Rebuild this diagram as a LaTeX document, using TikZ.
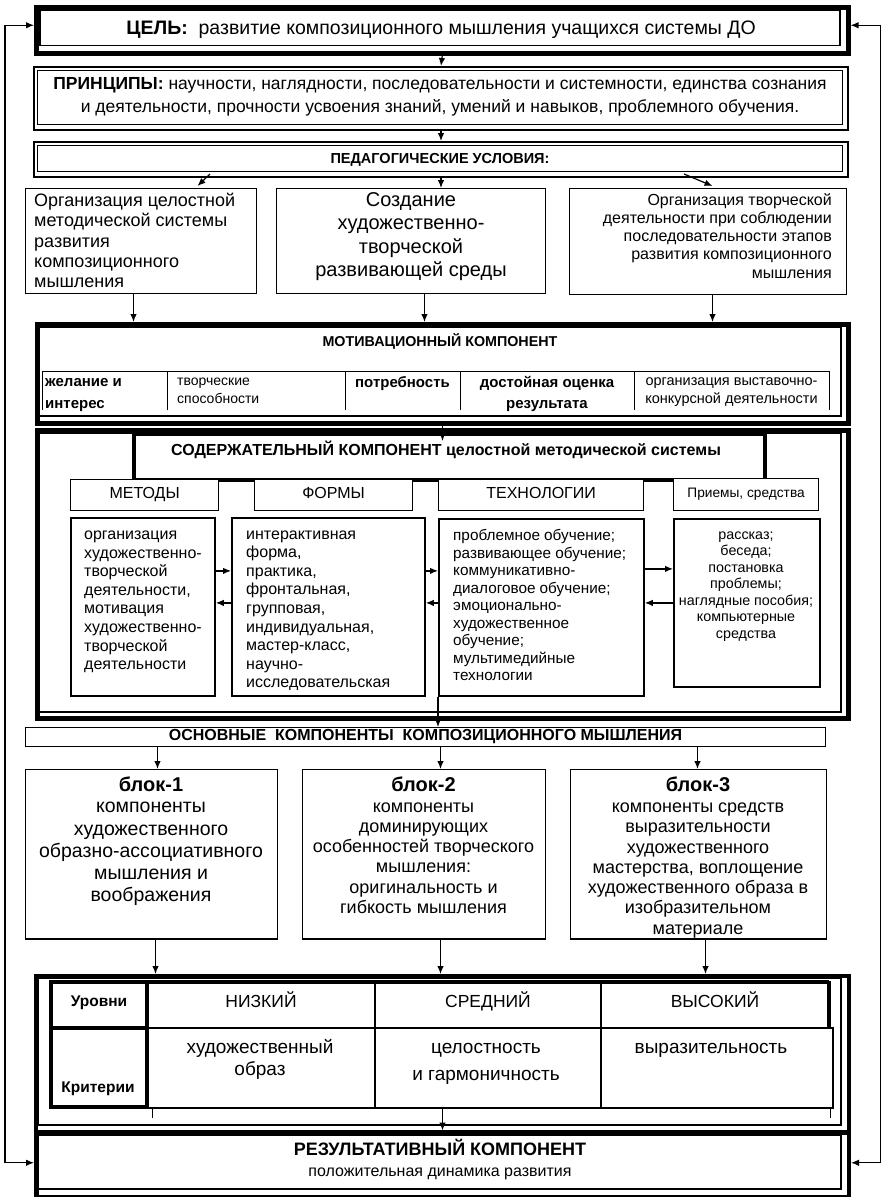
\documentclass[tikz,border=0pt]{standalone}
\usepackage{fontspec}
\setmainfont{Liberation Sans}
\usetikzlibrary{arrows.meta,calc}
\newcommand\fsz[2]{\fontsize{#1}{#2}\selectfont}
% name, x1, y1, x2, y2, style, text
\newcommand\mkbox[7]{\node[#6, inner sep=0pt, anchor=north west, minimum width={(#4)-(#2)}, minimum height={(#5)-(#3)}] (#1) at (#2,#3) {#7};}
\tikzset{
  arr/.style={-{Latex[length=8pt,width=6.5pt]}, line width=1.2pt},
  darr/.style={{Latex[length=8pt,width=6.5pt]}-{Latex[length=8pt,width=6.5pt]}, line width=1.2pt},
  heavy/.style={draw, line width=4.5pt},
  dbl/.style={draw, line width=2pt},
  plain/.style={draw, line width=1pt},
  cbox/.style={draw, line width=1.8pt},
  hbox/.style={draw, line width=1.2pt, fill=white},
  thinline/.style={line width=1pt},
  txt/.style={inner sep=0pt, execute at begin node=\strut, execute at end node=\strut},
}
\begin{document}
\begin{tikzpicture}[x=1pt,y=-1pt]
\useasboundingbox (0,0) rectangle (881,1197);
\fill[white] (0,0) rectangle (881,1197);

% ---------- ЦЕЛЬ
\mkbox{cel}{34}{5}{846}{51}{heavy}{}
\draw[line width=1.2pt] (40,10.5) rectangle (840,45.5);
\node[txt, font=\fsz{19.5}{23}] (celt) at (441,29.5) {\textbf{ЦЕЛЬ:}\ \ развитие композиционного мышления учащихся системы ДО};

% ---------- ПРИНЦИПЫ
\mkbox{pri}{33}{66}{847}{129}{dbl}{}
\draw[line width=1pt] (37.5,70.5) rectangle (842.5,124.5);
\node[txt, font=\fsz{17.5}{22.5}, align=center] (prit) at (440,98.5) {\textbf{ПРИНЦИПЫ:} научности, наглядности, последовательности и системности, единства сознания\\и деятельности, прочности усвоения знаний, умений и навыков, проблемного обучения.};

% ---------- ПЕДАГОГИЧЕСКИЕ УСЛОВИЯ
\mkbox{ped}{33}{141}{847}{176}{dbl}{}
\draw[line width=1pt] (37.5,145.5) rectangle (842.5,171.5);
\node[txt, font=\bfseries\fsz{14.5}{17}] (pedt) at (440,160) {ПЕДАГОГИЧЕСКИЕ УСЛОВИЯ:};

\draw[arr] (cel.south) -- (pri.north);
\draw[arr] (pri.south) -- (ped.north);

% ---------- conditions
\mkbox{c1}{25}{188}{256}{293}{plain}{}
\mkbox{c2}{276}{188}{545}{293}{plain}{}
\mkbox{c3}{569}{188}{846}{294}{plain}{}
\node[txt, font=\fsz{18}{20.3}, align=left, anchor=west] (c1t) at (34,243.5) {Организация целостной\\методической системы\\развития\\композиционного\\мышления};
\node[txt, font=\fsz{20}{23.3}, align=center] (c2t) at (411,238) {Создание\\художественно-\\творческой\\развивающей среды};
\node[txt, font=\fsz{16}{18.3}, align=right, anchor=east] (c3t) at (832,238.5) {Организация творческой\\деятельности при соблюдении\\последовательности этапов\\развития композиционного\\мышления};

\draw[arr] ([xshift=-231pt,yshift=4pt]ped.south) -- ([xshift=56.5pt,yshift=2pt]c1.north);
\draw[arr] (ped.south) -- (ped.south |- c2.north);
\draw[arr] ([xshift=243pt,yshift=4pt]ped.south) -- ([xshift=4.5pt,yshift=2pt]c3.north);

% ---------- МОТИВАЦИОННЫЙ
\mkbox{mot}{34.5}{322}{845.5}{421}{draw, line width=5pt}{}
\draw[line width=1.2pt] (39,327.5) rectangle (841,416);
\node[txt, font=\bfseries\fsz{14.3}{17}] (mott) at (440,343) {МОТИВАЦИОННЫЙ КОМПОНЕНТ};
\draw[thinline] (42,371) -- (829,371);
\foreach \xx in {42,167,345,460,634,829} { \draw[thinline] (\xx,371) -- (\xx,410); }
\node[txt, font=\bfseries\fsz{15}{21.5}, align=left, anchor=west] (m1) at (45,396.5) {желание и\\интерес};
\node[txt, font=\fsz{14}{18}, align=left, anchor=west] (m2) at (177,393.5) {творческие\\способности};
\node[txt, font=\bfseries\fsz{15}{21}] (m3) at (402.5,383.5) {потребность};
\node[txt, font=\bfseries\fsz{15}{21.5}, align=center] (m4) at (547,395.5) {достойная оценка\\результата};
\node[txt, font=\fsz{14.5}{18}, align=center] (m5) at (731.5,393.5) {организация выставочно-\\конкурсной деятельности};

\draw[arr] ([xshift=-7.5pt]c1.south) -- ([xshift=-7.5pt]c1.south |- mot.north);
\draw[arr] ([xshift=13.5pt]c2.south) -- ([xshift=13.5pt]c2.south |- mot.north);
\draw[arr] ([xshift=4.5pt]c3.south) -- ([xshift=4.5pt]c3.south |- mot.north);

% ---------- СОДЕРЖАТЕЛЬНЫЙ
\mkbox{sod}{34.5}{428}{845.5}{716}{draw, line width=5pt}{}
\draw[line width=1.2pt] (39,433.5) rectangle (841,712);
\mkbox{sodtb}{132}{432}{763}{478}{draw, line width=4pt, fill=white}{}
\node[txt, font=\bfseries\fsz{16}{19}] (sodt) at (446,451) {СОДЕРЖАТЕЛЬНЫЙ КОМПОНЕНТ целостной методической системы};
\draw[arr] (mot.south) -- ($(mot.south |- sodtb.north)+(0,9)$);

\mkbox{h1}{70}{479}{218}{510}{hbox}{\fsz{16}{19}\raisebox{-1pt}{\strut МЕТОДЫ}}
\mkbox{h2}{254}{479}{412}{510}{hbox}{\fsz{16}{19}\raisebox{-1pt}{\strut ФОРМЫ}}
\mkbox{h3}{438}{479}{643}{510}{hbox}{\fsz{16}{19}\raisebox{-1pt}{\strut ТЕХНОЛОГИИ}}
\mkbox{h4}{673}{478}{818}{510}{hbox}{\fsz{13.7}{16}\strut Приемы, средства}

\mkbox{b1}{70}{517}{214}{695}{cbox}{}
\mkbox{b2}{231}{517}{424}{695}{cbox}{}
\mkbox{b3}{438}{518}{643}{695}{cbox}{}
\mkbox{b4}{673}{518}{819}{686}{cbox}{}

\node[txt, font=\fsz{16}{18.6}, align=left, anchor=west] (b1t) at (84,603) {организация\\художественно-\\творческой\\деятельности,\\мотивация\\художественно-\\творческой\\деятельности};
\begin{scope}
\clip (231,517) rectangle (424,689);
\node[txt, font=\fsz{16}{18.55}, align=left, anchor=west] (b2t) at (246,612) {интерактивная\\форма,\\практика,\\фронтальная,\\групповая,\\индивидуальная,\\мастер-класс,\\научно-\\исследовательская};
\end{scope}
\node[txt, font=\fsz{15.3}{17.5}, align=left, anchor=west] (b3t) at (453,608) {проблемное обучение;\\развивающее обучение;\\коммуникативно-\\диалоговое обучение;\\эмоционально-\\художественное\\обучение;\\мультимедийные\\технологии};
\node[txt, font=\fsz{14.3}{16.5}, align=center] (b4t) at (746,587.5) {рассказ;\\беседа;\\постановка\\проблемы;\\наглядные пособия;\\компьютерные\\средства};

\draw[arr] ($(b1.east)+(0,-36)$) -- ($(b2.west)+(0,-36)$);
\draw[arr] ($(b2.west)+(0,-4)$) -- ($(b1.east)+(0,-4)$);
\draw[arr] ($(b2.east)+(0,-36)$) -- ($(b3.west)+(0,-36.5)$);
\draw[arr] ($(b3.west)+(0,-4.5)$) -- ($(b2.east)+(0,-4)$);
\draw[arr] ($(b3.east)+(0,-38.5)$) -- ($(b4.west)+(0,-34)$);
\draw[arr] (b4.west) -- ($(b3.east)+(0,-4.5)$);

% ---------- ОСНОВНЫЕ
\mkbox{osn}{25}{727}{825}{746}{plain}{\bfseries\fsz{16}{19}\raisebox{-2pt}{\strut ОСНОВНЫЕ\ \ КОМПОНЕНТЫ\ \ КОМПОЗИЦИОННОГО МЫШЛЕНИЯ}}
\draw[arr] (b3.south west) -- (b3.south west |- osn.north);

% ---------- blocks
\mkbox{bl1}{25}{769}{277}{938}{plain}{}
\mkbox{bl2}{302}{769}{545}{938}{plain}{}
\mkbox{bl3}{570}{769}{826}{938}{plain}{}
\draw[line width=2.5pt] (bl1.south west) -- (bl1.south east);
\draw[line width=2.5pt] (bl2.south west) -- (bl2.south east);
\draw[line width=2.5pt] (bl3.south west) -- (bl3.south east);
\node[txt, font=\bfseries\fsz{20}{23}] (bl1h) at (151,787) {блок-1};
\node[txt, font=\bfseries\fsz{20}{23}] (bl2h) at (423.5,787) {блок-2};
\node[txt, font=\bfseries\fsz{20}{23}] (bl3h) at (698,787) {блок-3};
\node[txt, font=\fsz{19.5}{22.25}, align=center] (bl1t) at (151,855.5) {компоненты\\художественного\\образно-ассоциативного\\мышления и\\воображения};
\node[txt, font=\fsz{18}{20.2}, align=center] (bl2t) at (423.5,861) {компоненты\\доминирующих\\особенностей творческого\\мышления:\\оригинальность и\\гибкость мышления};
\node[txt, font=\fsz{18}{20.3}, align=center] (bl3t) at (698,871.5) {компоненты средств\\выразительности\\художественного\\мастерства, воплощение\\художественного образа в\\изобразительном\\материале};

\coordinate (o1) at ($(bl1.north)+(6,0)$);
\coordinate (o2) at ($(bl2.north)+(16.5,0)$);
\coordinate (o3) at ($(bl3.north)+(-1,0)$);
\draw[arr] (o1 |- osn.south) -- (o1);
\draw[arr] (o2 |- osn.south) -- (o2);
\draw[arr] (o3 |- osn.south) -- (o3);

% ---------- levels
\mkbox{lev}{34}{974}{846.5}{1130}{draw, line width=4pt}{}
\draw[line width=1.2pt] (38.5,978.5) rectangle (841,1125);
\mkbox{tab}{51}{982}{833}{1108}{}{}
\draw[line width=1.2pt] (147,982) rectangle (829,1028);
\draw[line width=1.2pt] (147,1028) rectangle (833,1108);
\draw[line width=1.2pt] (375,982) -- (375,1108);
\draw[line width=1.2pt] (601,982) -- (601,1108);
\draw[line width=3.5pt] (51,982) -- (829,982);
\draw[line width=3.5pt] (829,980.5) -- (829,1028);
\draw[line width=4pt] (51,982) rectangle (147,1107);
\draw[line width=4pt] (51,1028) -- (147,1028);
\draw[thinline] (152,1108) -- (152,1118);
\draw[thinline] (830,1108) -- (830,1118);
\node[txt, font=\bfseries\fsz{15.5}{18}] (urov) at (99,1003) {Уровни};
\node[txt, font=\bfseries\fsz{15.5}{18}] (krit) at (98,1089) {Критерии};
\node[txt, font=\fsz{17.5}{20}] (low) at (261,1003) {НИЗКИЙ};
\node[txt, font=\fsz{17.5}{20}] (mid) at (488,1003) {СРЕДНИЙ};
\node[txt, font=\fsz{17.5}{20}] (high) at (715,1003) {ВЫСОКИЙ};
\node[txt, font=\fsz{19}{22}, align=center] (cr1) at (260,1061) {художественный\\образ};
\node[txt, font=\fsz{19}{27}, align=center] (cr2) at (486,1066) {целостность\\и гармоничность};
\node[txt, font=\fsz{19}{22}] (cr3) at (711,1049.5) {выразительность};

\draw[arr] ([xshift=-2pt]o1 |- bl1.south) -- ([xshift=-2pt]o1 |- lev.north);
\draw[arr] (o2 |- bl2.south) -- (o2 |- lev.north);
\draw[arr] ([xshift=8pt]o3 |- bl3.south) -- ([xshift=8pt]o3 |- lev.north);

% ---------- РЕЗУЛЬТАТИВНЫЙ
\mkbox{rez}{34}{1130.5}{846.5}{1194.5}{heavy}{}
\draw[line width=1.2pt] (38.5,1135.5) rectangle (841,1189);
\node[txt, font=\bfseries\fsz{18}{21}] (rezt) at (440,1150) {РЕЗУЛЬТАТИВНЫЙ КОМПОНЕНТ};
\node[txt, font=\fsz{16}{19}] (rezs) at (440,1173) {положительная динамика развития};
\draw[arr] (tab.south -| rez.north) -- (rez.north);

% ---------- feedback loops
\draw[darr] ($(cel.west)+(0,-5)$) -- ++(-29,0) |- ($(rez.west)+(0,-2)$);
\draw[darr] ($(cel.east)+(0,-5)$) -- ++(30,0) |- ($(rez.east)+(0,-2)$);
\end{tikzpicture}
\end{document}
